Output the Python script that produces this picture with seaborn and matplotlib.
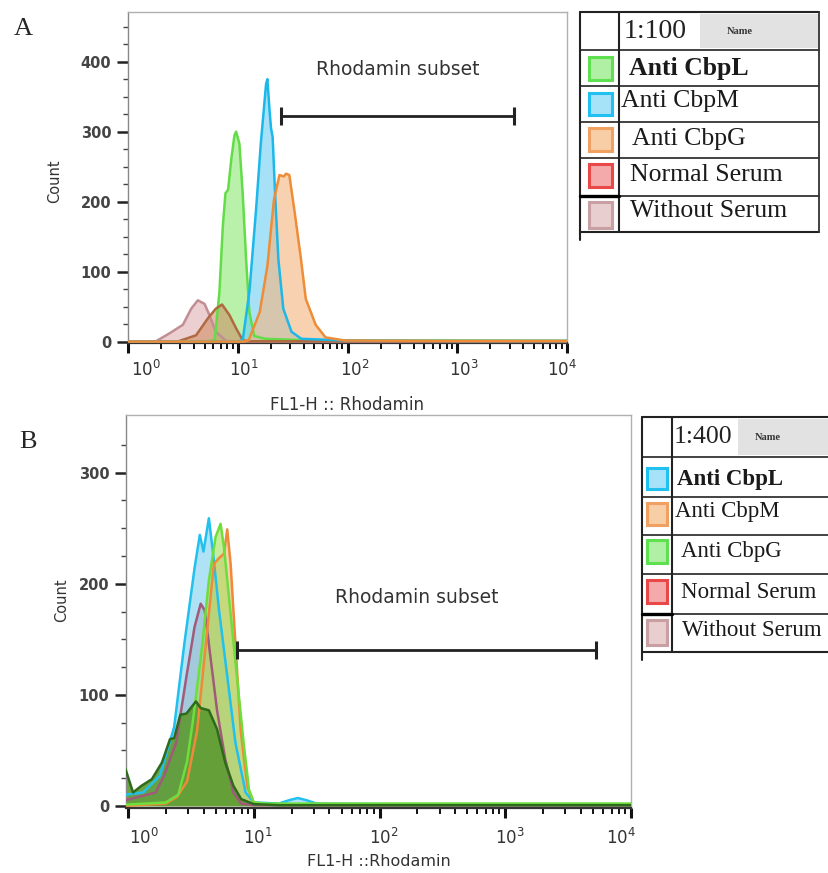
import numpy as np
import pandas as pd
import matplotlib
matplotlib.use("Agg")
import matplotlib.pyplot as plt
import seaborn as sns
from matplotlib.patches import Rectangle
from matplotlib.ticker import FixedLocator, NullFormatter

# ---------------- data (log10 FL1-H values, counts) ----------------
legend_names = ["Anti CbpL", "Anti CbpM", "Anti CbpG", "Normal Serum", "Without Serum"]

# Panel A (dilution 1:100)
a_cbpl_log = [0.0, 0.70, 0.79, 0.833, 0.864, 0.888, 0.912, 0.94, 0.97, 0.985, 1.015, 1.045, 1.076, 1.106, 1.15, 1.25, 1.6, 2.0, 3.0, 4.0]
a_cbpl_cnt = [0, 0, 2, 71, 165, 212, 217, 259, 295, 300, 283, 212, 118, 42, 8, 4, 2, 1.5, 1.5, 1]
a_cbpm_log = [0.0, 1.0, 1.045, 1.106, 1.167, 1.21, 1.258, 1.27, 1.29, 1.303, 1.318, 1.34, 1.37, 1.415, 1.49, 1.58, 2.0, 3.0, 4.0]
a_cbpm_cnt = [0, 0, 2, 71, 189, 283, 368, 375, 330, 305, 292, 212, 118, 47, 14, 4, 1.5, 1, 1]
a_cbpg_log = [0.0, 1.05, 1.10, 1.2, 1.27, 1.33, 1.38, 1.42, 1.44, 1.47, 1.515, 1.576, 1.62, 1.71, 1.8, 1.98, 3.0, 4.0]
a_cbpg_cnt = [0, 0, 2, 42, 108, 203, 238, 236, 240, 238, 189, 118, 61, 24, 6, 1.5, 1, 1]
a_normal_log = [0.0, 0.45, 0.62, 0.727, 0.8, 0.857, 0.924, 0.985, 1.045, 1.1, 2.0, 4.0]
a_normal_cnt = [0, 0, 9, 33, 47, 53, 38, 19, 2, 0.5, 0.5, 0.5]
a_without_log = [0.0, 0.25, 0.38, 0.5, 0.576, 0.636, 0.697, 0.742, 0.8, 0.894, 1.0, 4.0]
a_without_cnt = [0, 0, 12, 24, 47, 59, 54, 38, 14, 1, 0, 0]

# Panel B (dilution 1:400)
b_cbpl_log = [-0.02, 0.12, 0.253, 0.367, 0.448, 0.529, 0.571, 0.60, 0.643, 0.675, 0.724, 0.79, 0.854, 0.935, 1.0, 1.2, 1.28, 1.35, 1.42, 1.5, 2.0, 3.0, 4.01]
b_cbpl_cnt = [10, 12, 27, 71, 146, 214, 244, 229, 259, 229, 176, 116, 57, 12, 3, 2, 5, 7, 5, 2, 1.5, 1.5, 1.5]
b_cbpm_log = [-0.02, 0.3, 0.39, 0.47, 0.55, 0.63, 0.683, 0.723, 0.763, 0.789, 0.816, 0.856, 0.896, 0.949, 1.0, 1.1, 4.01]
b_cbpm_cnt = [0, 2, 8, 22, 68, 158, 218, 223, 227, 249, 218, 143, 68, 17, 3, 1, 1]
b_cbpg_log = [-0.02, 0.3, 0.40, 0.47, 0.52, 0.589, 0.643, 0.696, 0.736, 0.763, 0.816, 0.869, 0.923, 0.963, 1.0, 1.1, 4.01]
b_cbpg_cnt = [1, 3, 10, 40, 80, 143, 203, 242, 254, 233, 173, 113, 53, 14, 3, 2, 2]
b_normal_log = [-0.02, 0.22, 0.286, 0.383, 0.464, 0.529, 0.578, 0.61, 0.659, 0.708, 0.773, 0.838, 0.9, 1.0, 4.01]
b_normal_cnt = [5, 12, 27, 57, 116, 161, 182, 176, 131, 86, 42, 12, 2, 0.5, 0.5]
b_dark_log = [-0.02, 0.04, 0.107, 0.19, 0.27, 0.334, 0.367, 0.416, 0.464, 0.54, 0.578, 0.643, 0.708, 0.773, 0.838, 0.9, 1.0, 1.2, 4.01]
b_dark_cnt = [33, 12, 18, 24, 39, 60, 61, 82, 83, 94, 88, 86, 69, 39, 18, 6, 1.5, 0.5, 0.5]

# gates: (x_start, x_end, count) and label position
a_gate = [25, 3300, 323]
b_gate = [7.4, 5250, 140]
a_label_pos = [10 ** 2.46, 389]
b_label_pos = [10 ** 2.30, 188]

y_major_a = [0, 100, 200, 300, 400]
y_major_b = [0, 100, 200, 300]
decades = [0, 1, 2, 3, 4]
x_tick_labels = [r"$10^{%d}$" % d for d in decades]

# ---------------- styling ----------------
sns.set_style("white")
plt.rcParams["font.family"] = ["DejaVu Sans"]

W, H = 829, 873
fig = plt.figure(figsize=(W / 100, H / 100), dpi=100)
PT = 0.72  # points per pixel at dpi 100


def px_axes(x0, y0, x1, y1):
    return fig.add_axes([x0 / W, 1 - y1 / H, (x1 - x0) / W, (y1 - y0) / H])


def make_df(pairs):
    rows = []
    for name, (lg, ct) in pairs.items():
        for a, b in zip(lg, ct):
            rows.append((name, 10 ** a, b))
    return pd.DataFrame(rows, columns=["series", "fl1", "count"])


def draw_panel(ax, pairs, order, lines, fills, alphas, xlim, ylim, ymaj, ymax_minor,
               gate, label_pos, xlabel, xlab_dx, xlab_dy, xlabel_y, ylabel_xy, xlabel_fs):
    ax.set_xscale("log")
    df = make_df(pairs)
    for name in order:
        sub = df[df.series == name]
        ax.fill_between(sub["fl1"], sub["count"], 0, color=fills[name], alpha=alphas[name], lw=0, zorder=2)
        sns.lineplot(data=sub, x="fl1", y="count", color=lines[name], estimator=None, sort=False,
                     lw=1.8, ax=ax, legend=False, zorder=3)
    ax.set_xlim(*xlim)
    ax.set_ylim(*ylim)
    # gate
    ax.plot([gate[0], gate[1]], [gate[2], gate[2]], color="#222222", lw=2, zorder=4)
    ax.plot([gate[0], gate[1]], [gate[2], gate[2]], ls="none", marker="|", ms=13, mew=2.2,
            color="#222222", zorder=4)
    ax.text(label_pos[0], label_pos[1], "Rhodamin subset", ha="center", va="center",
            fontsize=13.5, color="#333333")
    # ticks
    ax.xaxis.set_major_locator(FixedLocator([10.0 ** d for d in decades]))
    ax.xaxis.set_major_formatter(NullFormatter())
    minors = [m * 10.0 ** d for d in decades[:-1] for m in range(2, 10)]
    ax.xaxis.set_minor_locator(FixedLocator(minors))
    ax.xaxis.set_minor_formatter(NullFormatter())
    for d, lab, dx in zip(decades, x_tick_labels, xlab_dx):
        ax.annotate(lab, xy=(10.0 ** d, 0), xycoords=("data", "axes fraction"),
                    xytext=(dx * PT, -xlab_dy * PT), textcoords="offset points",
                    ha="center", va="center", fontsize=12, color="#333333", annotation_clip=False)
    ax.yaxis.set_major_locator(FixedLocator(ymaj))
    ax.yaxis.set_minor_locator(FixedLocator(list(np.arange(0, ymax_minor + 1, 25))))
    ax.tick_params(axis="x", which="major", direction="out", length=7, width=2.2, color="#111111",
                   bottom=True)
    ax.tick_params(axis="x", which="minor", direction="out", length=4, width=1.4, color="#111111", bottom=True)
    ax.tick_params(axis="y", which="major", direction="out", length=8, width=1.8, color="#222222",
                   labelsize=10.5, pad=4, labelcolor="#444444", left=True)
    ax.tick_params(axis="y", which="minor", direction="out", length=3.5, width=1, color="#444444", left=True)
    for lab in ax.get_yticklabels():
        lab.set_fontweight("bold")
    for s in ["top", "right"]:
        ax.spines[s].set_color("#b0b0b0")
        ax.spines[s].set_linewidth(1)
    ax.spines["left"].set_color("#888888")
    ax.spines["left"].set_linewidth(1)
    ax.spines["bottom"].set_color("#333333")
    ax.spines["bottom"].set_linewidth(1.6)
    ax.set_ylabel("Count", fontsize=10.5, color="#333333")
    ax.yaxis.set_label_coords(*ylabel_xy)
    ax.set_xlabel(xlabel, fontsize=xlabel_fs, color="#333333")
    ax.xaxis.set_label_coords(0.5, xlabel_y)


# ---------------- Panel A ----------------
axA = px_axes(128, 12, 567, 343)
pairsA = {
    "Anti CbpL": (a_cbpl_log, a_cbpl_cnt),
    "Anti CbpM": (a_cbpm_log, a_cbpm_cnt),
    "Anti CbpG": (a_cbpg_log, a_cbpg_cnt),
    "Normal Serum": (a_normal_log, a_normal_cnt),
    "Without Serum": (a_without_log, a_without_cnt),
}
linesA = {"Anti CbpL": "#62dd48", "Anti CbpM": "#1cb8ea", "Anti CbpG": "#ee8c38",
          "Normal Serum": "#b06a40", "Without Serum": "#c08e94"}
fillsA = {"Anti CbpL": "#9cec86", "Anti CbpM": "#6ccdf2", "Anti CbpG": "#f4b47c",
          "Normal Serum": "#d08860", "Without Serum": "#e2b6b8"}
alphasA = {"Anti CbpL": 0.7, "Anti CbpM": 0.6, "Anti CbpG": 0.6, "Normal Serum": 0.55, "Without Serum": 0.65}
draw_panel(axA, pairsA, ["Without Serum", "Anti CbpL", "Normal Serum", "Anti CbpM", "Anti CbpG"],
           linesA, fillsA, alphasA, (1, 10 ** 4), (-2, 471), y_major_a, 450,
           a_gate, a_label_pos, "FL1-H :: Rhodamin",
           [18, 6, 7, 7, -5], 27, -0.16, (-0.15, 0.49), 12)

# ---------------- Panel B ----------------
axB = px_axes(126, 415, 631, 808)
pairsB = {
    "Anti CbpL": (b_cbpl_log, b_cbpl_cnt),
    "Anti CbpM": (b_cbpm_log, b_cbpm_cnt),
    "Anti CbpG": (b_cbpg_log, b_cbpg_cnt),
    "Normal Serum": (b_normal_log, b_normal_cnt),
    "dark": (b_dark_log, b_dark_cnt),
}
linesB = {"Anti CbpL": "#22c0ee", "Anti CbpM": "#ee8a3a", "Anti CbpG": "#6ede3c",
          "Normal Serum": "#a05a7a", "dark": "#2e6a1c"}
fillsB = {"Anti CbpL": "#7ccff0", "Anti CbpM": "#f2b070", "Anti CbpG": "#a6de5a",
          "Normal Serum": "#c89a9a", "dark": "#5c9a30"}
alphasB = {"Anti CbpL": 0.6, "Anti CbpM": 0.55, "Anti CbpG": 0.6, "Normal Serum": 0.6, "dark": 0.9}
draw_panel(axB, pairsB, ["Normal Serum", "Anti CbpL", "Anti CbpM", "Anti CbpG", "dark"],
           linesB, fillsB, alphasB, (10 ** -0.016, 10 ** 4.0), (-2, 352), y_major_b, 325,
           b_gate, b_label_pos, "FL1-H ::Rhodamin",
           [16, 4, 4, 5, -10], 30, -0.118, (-0.113, 0.53), 11.5)

# ---------------- panel letters ----------------
fig.text(14 / W, 1 - 29 / H, "A", fontsize=19, family=["Liberation Serif"], va="center", ha="left")
fig.text(19 / W, 1 - 442 / H, "B", fontsize=19, family=["Liberation Serif"], va="center", ha="left")


# ---------------- legend tables ----------------
def draw_table(x0, x1, rows_y, col_x, header, hdr_x, hdr_fs, name_x, gray_x0, texts_x, texts_y,
               sw_x, sw_boxes, edges, faces, fs, right_border=True):
    ax = px_axes(x0 - 2, rows_y[0] - 2, x1 + 2, rows_y[-1] + 12)
    ax.set_xlim(x0 - 2, x1 + 2)
    ax.set_ylim(rows_y[-1] + 12, rows_y[0] - 2)
    ax.axis("off")
    ax.add_patch(Rectangle((gray_x0, rows_y[0] + 2), x1 - gray_x0 - 1, rows_y[1] - rows_y[0] - 4,
                           facecolor="#e2e2e2", edgecolor="none"))
    for i, y in enumerate(rows_y):
        ax.plot([x0, x1], [y, y], color="#222222", lw=1.5 if i in (0, len(rows_y) - 1) else 1.2)
    ax.plot([x0, x0], [rows_y[0], rows_y[-1] + 8], color="#222222", lw=1.5)
    ax.plot([col_x, col_x], [rows_y[0], rows_y[-1]], color="#222222", lw=1.5)
    if right_border:
        ax.plot([x1, x1], [rows_y[0], rows_y[-1]], color="#333333", lw=1.3)
    ax.plot([x0, col_x], [rows_y[-2], rows_y[-2]], color="#000000", lw=2.4)
    ax.text(hdr_x, (rows_y[0] + rows_y[1]) / 2, header, fontsize=hdr_fs, family=["Liberation Serif"],
            va="center", ha="left", color="#222222")
    ax.text(name_x, (rows_y[0] + rows_y[1]) / 2, "Name", fontsize=7.5, family=["Liberation Serif"],
            fontweight="bold", va="center", ha="center", color="#333333")
    for i, name in enumerate(legend_names):
        ax.text(texts_x[i], texts_y[i], name, fontsize=fs, family=["Liberation Serif"],
                fontweight="bold" if i == 0 else "normal", va="center", ha="left", color="#1a1a1a")
        yb0, yb1 = sw_boxes[i]
        ax.add_patch(Rectangle((sw_x[0], yb0), sw_x[1] - sw_x[0], yb1 - yb0,
                               facecolor=faces[i], edgecolor=edges[i], lw=2.2))
    return ax


edgesA = ["#5fe050", "#20c0f0", "#f0a060", "#e84848", "#c8a0a4"]
facesA = ["#b0f0a4", "#a6e2f8", "#f8cea6", "#f4aaaa", "#e8cece"]
draw_table(580, 819, [12, 50, 86, 122, 158, 196, 232], 619, "1:100", 624, 20, 740, 700,
           [629, 621, 632, 630, 630], [68, 101, 139, 175, 211],
           (589, 612), [(57, 80), (93, 115), (128, 151), (164, 187), (202, 228)],
           edgesA, facesA, 18.5)

edgesB = ["#20c0f0", "#f0a060", "#5fe050", "#e84848", "#c8a0a4"]
facesB = ["#a6e2f8", "#f8cea6", "#b0f0a4", "#f4aaaa", "#e8cece"]
draw_table(642, 829, [417, 457, 497, 535, 574, 614, 652], 672, "1:400", 674, 18.5, 768, 738,
           [677, 675, 681, 681, 682], [479, 512, 552, 592, 630],
           (647, 667), [(468, 489), (503, 525), (540, 563), (580, 603), (620, 645)],
           edgesB, facesB, 16.5, right_border=False)

fig.savefig("out.png", dpi=100)
